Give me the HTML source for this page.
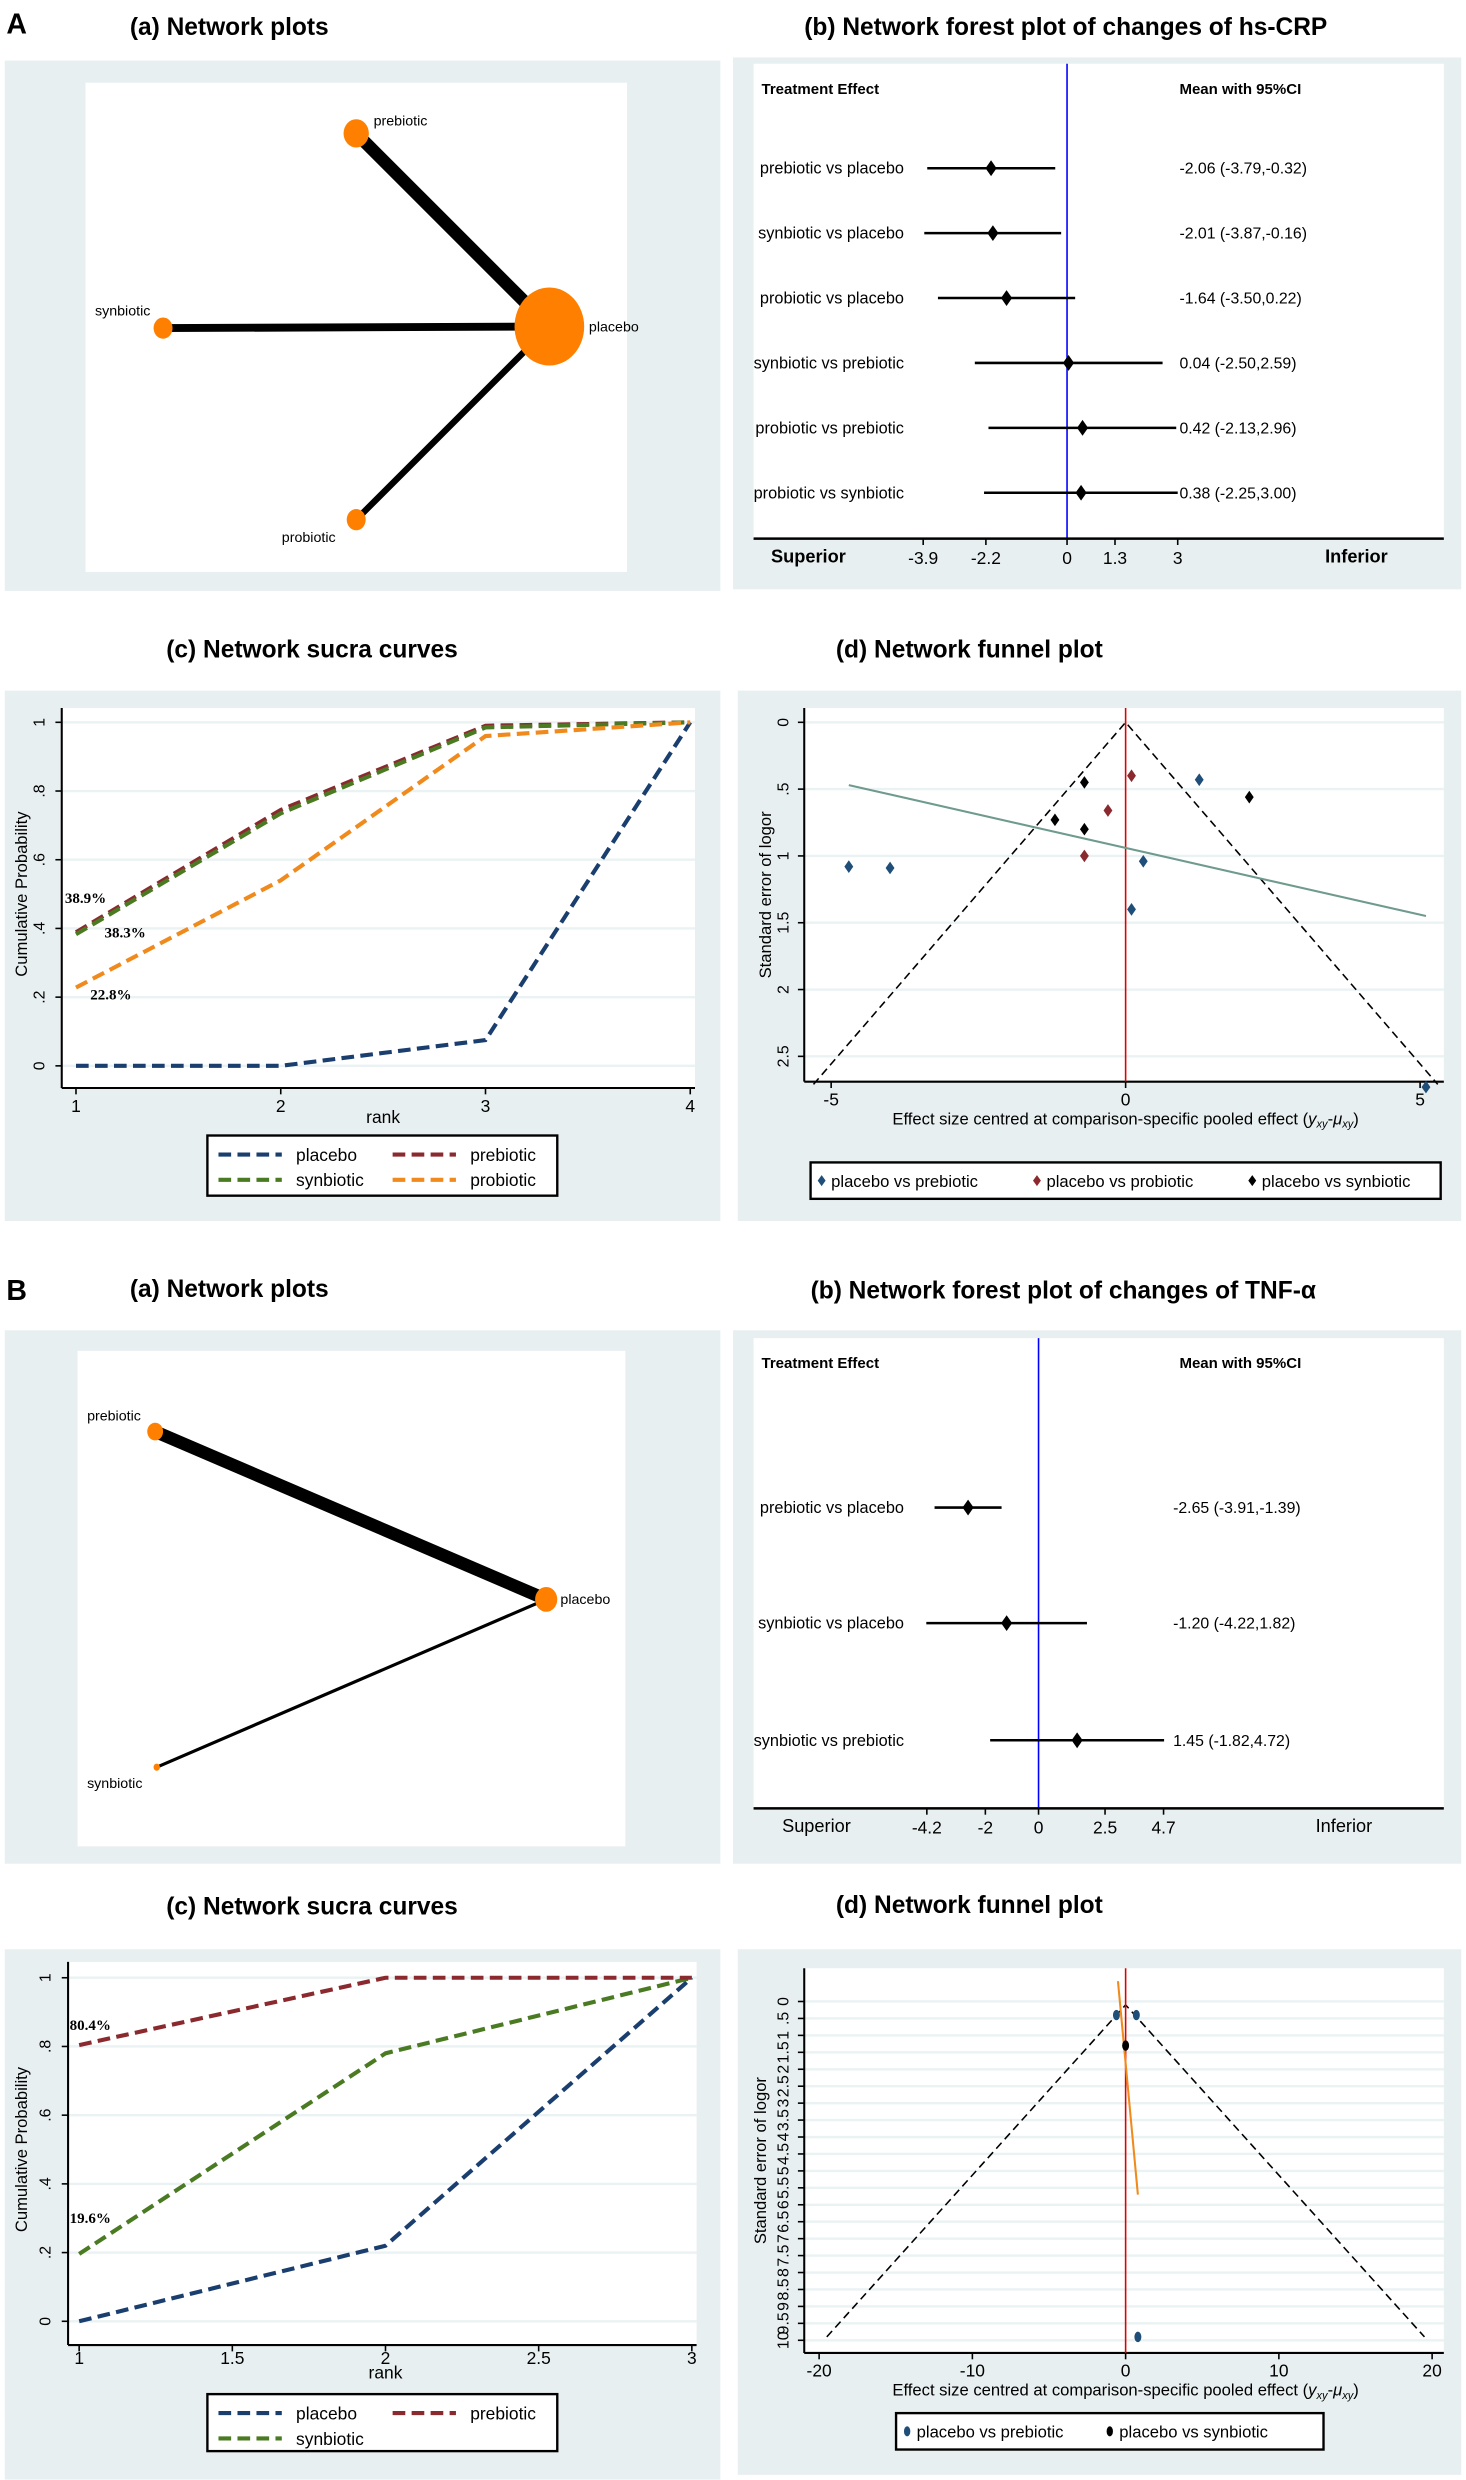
<!DOCTYPE html>
<html><head><meta charset="utf-8"><style>
html,body{margin:0;padding:0;background:#fff}
svg{display:block;font-family:"Liberation Sans",sans-serif}
</style></head><body>
<svg id="fig" width="1466" height="2480" viewBox="0 0 926 1566" xmlns="http://www.w3.org/2000/svg"></svg>
<script>
// ---------- DATA ----------
const sucraRanksA = [1,2,3,4];
const sucraPlaceboA = [0,0,0.075,1];
const sucraPrebioticA = [0.389,0.745,0.99,1];
const sucraSynbioticA = [0.383,0.735,0.985,1];
const sucraProbioticA = [0.228,0.54,0.96,1];
const sucraRanksB = [1,2,3];
const sucraPlaceboB = [0,0.22,1];
const sucraPrebioticB = [0.804,1,1];
const sucraSynbioticB = [0.196,0.78,1];

const forestLabelsA = ["prebiotic vs placebo","synbiotic vs placebo","probiotic vs placebo","synbiotic vs prebiotic","probiotic vs prebiotic","probiotic vs synbiotic"];
const forestMeanA = [-2.06,-2.01,-1.64,0.04,0.42,0.38];
const forestLowA = [-3.79,-3.87,-3.50,-2.50,-2.13,-2.25];
const forestHighA = [-0.32,-0.16,0.22,2.59,2.96,3.00];
const forestTicksA = [-3.9,-2.2,0,1.3,3];
const forestLabelsB = ["prebiotic vs placebo","synbiotic vs placebo","synbiotic vs prebiotic"];
const forestMeanB = [-2.65,-1.20,1.45];
const forestLowB = [-3.91,-4.22,-1.82];
const forestHighB = [-1.39,1.82,4.72];
const forestTicksB = [-4.2,-2,0,2.5,4.7];

const funnelBlueXA = [-4.7,-4.0,1.25,0.3,0.1,5.1];
const funnelBlueYA = [1.08,1.09,0.43,1.04,1.4,2.73];
const funnelRedXA = [0.1,-0.3,-0.7];
const funnelRedYA = [0.4,0.66,1.0];
const funnelBlackXA = [-0.7,-1.2,-0.7,2.1];
const funnelBlackYA = [0.45,0.73,0.8,0.56];
const funnelFitXA = [-4.7,5.1];
const funnelFitYA = [0.47,1.45];
const funnelBlueXB = [-0.6,0.7,0.8];
const funnelBlueYB = [0.4,0.4,9.9];
const funnelBlackXB = [0];
const funnelBlackYB = [1.3];
const funnelFitXB = [-0.5,0.8];
const funnelFitYB = [-0.6,5.7];

// ---------- HELPERS ----------
const NS="http://www.w3.org/2000/svg";
const svg=document.getElementById('fig');
function mk(tag,a,p){const e=document.createElementNS(NS,tag);for(const k in a)e.setAttribute(k,a[k]);(p||svg).appendChild(e);return e;}
function tx(x,y,s,size,extra,p){const e=mk('text',Object.assign({x:x,y:y,'font-size':size,fill:'#000'},extra||{}),p);e.textContent=s;return e;}
function title(x,y,s){const e=tx(x,y,s,15.5,{'font-weight':'bold'});

}
function bg(x,y,w,h){const e=mk('rect',{x:x,y:y,width:w,height:h,fill:'#e8eff1'});

}
function white(x,y,w,h){const e=mk('rect',{x:x,y:y,width:w,height:h,fill:'#fff'});

}

// ---------- PANEL LABELS ----------
let L=tx(4,21,'A',18,{'font-weight':'bold'});


L=tx(4,821,'B',18,{'font-weight':'bold'});



// ---------- NETWORK PLOTS ----------
function network(y0, nodes, edges){
  for(const ed of edges){const a=nodes[ed[0]],b=nodes[ed[1]];
    const l=mk('line',{x1:a.x,y1:a.y,x2:b.x,y2:b.y,stroke:'#000','stroke-width':ed[2]});
    
    }
  for(const k in nodes){const n=nodes[k];
    const c=mk('ellipse',{cx:n.x,cy:n.y,rx:n.r,ry:n.r*1.12,fill:'#ff8000'});
    
    
    const t=tx(n.lx,n.ly,k,9);
    
    }
}
title(82,22,'(a) Network plots');
bg(3,38,452,335); white(54,52,342,309);
network(0,{prebiotic:{x:225,y:84,r:8,lx:236,ly:79},placebo:{x:347,y:206,r:22,lx:372,ly:209},synbiotic:{x:103,y:207,r:6,lx:60,ly:199},probiotic:{x:225,y:328,r:6,lx:178,ly:342}},
  [['prebiotic','placebo',8],['synbiotic','placebo',5],['probiotic','placebo',4]]);
title(82,819,'(a) Network plots');
bg(3,840,452,337); white(49,853,346,313);
network(0,{prebiotic:{x:98,y:904,r:5,lx:55,ly:897},placebo:{x:345,y:1010,r:7,lx:354,ly:1013},synbiotic:{x:99,y:1116,r:2,lx:55,ly:1129}},
  [['prebiotic','placebo',8],['synbiotic','placebo',2]]);

// ---------- FOREST PLOTS ----------
function forest(cfg, labels, mean, low, high, ticks){
  const sx=v=>cfg.x0+v*cfg.k;
  bg(463,cfg.by,460,cfg.bh); white(476,cfg.wy,436,cfg.wh);
  let t=tx(481,cfg.hy,'Treatment Effect',9.5,{'font-weight':'bold'});
  
  
  t=tx(745,cfg.hy,'Mean with 95%CI',9.5,{'font-weight':'bold'});
  
  
  const ref=mk('line',{x1:cfg.x0,y1:cfg.wy,x2:cfg.x0,y2:cfg.ay,stroke:'#0000ff','stroke-width':1});
  
  
  for(let i=0;i<labels.length;i++){
    const y=cfg.rows[i];
    let e=tx(571,y+3.5,labels[i],10.3,{'text-anchor':'end'});
    
    
    e=mk('line',{x1:sx(low[i]),y1:y,x2:sx(high[i]),y2:y,stroke:'#000','stroke-width':1.6});
    
    
    const m=sx(mean[i]);
    e=mk('polygon',{points:`${m},${y-5} ${m+3.5},${y} ${m},${y+5} ${m-3.5},${y}`,fill:'#000'});
    
    
    const f=v=>v.toFixed(2);
    e=tx(cfg.vx,y+3.5,`${f(mean[i])} (${f(low[i])},${f(high[i])})`,10);
    
    
  }
  const ax=mk('line',{x1:476,y1:cfg.ay,x2:912,y2:cfg.ay,stroke:'#000','stroke-width':1.6});
  
  
  for(const v of ticks){
    const tk=mk('line',{x1:sx(v),y1:cfg.ay,x2:sx(v),y2:cfg.ay+4,stroke:'#000'});
    
    
    const tl=tx(sx(v),cfg.ay+16,String(v),11,{'text-anchor':'middle'});
    
    
  }
  t=tx(cfg.supx,cfg.ay+15,'Superior',11.5,{'font-weight':cfg.bold?'bold':'normal'});
  
  
  t=tx(cfg.infx,cfg.ay+15,'Inferior',11.5,{'font-weight':cfg.bold?'bold':'normal'});
  
  
}
title(508,22,'(b) Network forest plot of changes of hs-CRP');
forest({x0:674,k:23.3,by:36,bh:336,wy:40,wh:300,hy:59,ay:340,vx:745,rows:[106,147,188,229,270,311],supx:487,infx:837,bold:true},
  forestLabelsA,forestMeanA,forestLowA,forestHighA,forestTicksA);
title(512,820,'(b) Network forest plot of changes of TNF-α');
forest({x0:656,k:16.8,by:840,bh:337,wy:845,wh:297,hy:864,ay:1142,vx:741,rows:[952,1025,1099],supx:494,infx:831,bold:false},
  forestLabelsB,forestMeanB,forestLowB,forestHighB,forestTicksB);

// ---------- SUCRA ----------
function sucra(cfg, ranks, series, xticks, anns, legend){
  const sx=v=>cfg.xl+(v-ranks[0])/(ranks[ranks.length-1]-ranks[0])*(cfg.xr-cfg.xl);
  const sy=v=>cfg.y0-v*(cfg.y0-cfg.y1);
  bg(3,cfg.by,452,cfg.bh); white(cfg.px,cfg.py,cfg.pw,cfg.ph);
  for(const v of [0,0.2,0.4,0.6,0.8,1]){
    const g=mk('line',{x1:cfg.px,y1:sy(v),x2:cfg.px+cfg.pw,y2:sy(v),stroke:'#eaf2f3','stroke-width':1.5});
    
    
    const tl=tx(0,0,v===0?'0':v===1?'1':String(v).replace('0.','.'),10,{'text-anchor':'middle',transform:`translate(${cfg.px-11},${sy(v)}) rotate(-90)`});
    
    
    const tk=mk('line',{x1:cfg.px-4,y1:sy(v),x2:cfg.px,y2:sy(v),stroke:'#000'});
    
    
  }
  let a=mk('line',{x1:cfg.px,y1:cfg.py,x2:cfg.px,y2:cfg.py+cfg.ph,stroke:'#000','stroke-width':1.3});
  
  
  a=mk('line',{x1:cfg.px,y1:cfg.py+cfg.ph,x2:cfg.px+cfg.pw,y2:cfg.py+cfg.ph,stroke:'#000','stroke-width':1.3});
  
  
  for(const v of xticks){
    const tk=mk('line',{x1:sx(v),y1:cfg.py+cfg.ph,x2:sx(v),y2:cfg.py+cfg.ph+4,stroke:'#000'});
    
    
    const tl=tx(sx(v),cfg.py+cfg.ph+cfg.tkOff,String(v),11,{'text-anchor':'middle'});
    
    
  }
  let t=tx(sx((ranks[0]+ranks[ranks.length-1])/2),cfg.rankY,'rank',11,{'text-anchor':'middle'});
  
  
  t=tx(0,0,'Cumulative Probability',10.5,{'text-anchor':'middle',transform:`translate(17,${(cfg.y0+cfg.y1)/2}) rotate(-90)`});
  
  
  for(const s of series){
    const pts=s.v.map((v,i)=>sx(ranks[i])+','+sy(v)).join(' ');
    const p=mk('polyline',{points:pts,fill:'none',stroke:s.c,'stroke-width':2.6,'stroke-dasharray':'8,4'});
    
    
  }
  for(const an of anns){
    const e=tx(an[0],an[1],an[2],9.5,{'font-weight':'bold','font-family':'Liberation Serif, serif'});
    
    
  }
  const lg=mk('rect',{x:131,y:cfg.ly,width:221,height:cfg.lh,fill:'#fff',stroke:'#000','stroke-width':1.5});
  
  
  legend.forEach((s,i)=>{
    const col=i%2, row=Math.floor(i/2);
    const x=138+col*110, y=cfg.ly+12+row*16;
    const l=mk('line',{x1:x,y1:y,x2:x+40,y2:y,stroke:s.c,'stroke-width':2.6,'stroke-dasharray':'8,4'});
    
    
    const e=tx(x+49,y+4,s.n,11);
    
    
  });
}
const cBlue='#1a3f6f',cRed='#8b2a2e',cGreen='#4a7a22',cOrange='#f08a1c';
title(105,415,'(c) Network sucra curves');
sucra({by:436,bh:335,px:39,py:447,pw:400,ph:240,xl:48,xr:436,y0:673,y1:456,rankY:709,ly:717,lh:38,tkOff:15},
  sucraRanksA,
  [{n:'placebo',c:cBlue,v:sucraPlaceboA},{n:'prebiotic',c:cRed,v:sucraPrebioticA},{n:'synbiotic',c:cGreen,v:sucraSynbioticA},{n:'probiotic',c:cOrange,v:sucraProbioticA}],
  [1,2,3,4],[[41,570,'38.9%'],[66,592,'38.3%'],[57,631,'22.8%']],
  [{n:'placebo',c:cBlue},{n:'prebiotic',c:cRed},{n:'synbiotic',c:cGreen},{n:'probiotic',c:cOrange}]);
title(105,1209,'(c) Network sucra curves');
sucra({by:1231,bh:335,px:43,py:1239,pw:397,ph:242,xl:50,xr:437,y0:1466,y1:1249,rankY:1502,ly:1512,lh:36,tkOff:12},
  sucraRanksB,
  [{n:'placebo',c:cBlue,v:sucraPlaceboB},{n:'synbiotic',c:cGreen,v:sucraSynbioticB},{n:'prebiotic',c:cRed,v:sucraPrebioticB}],
  [1,1.5,2,2.5,3],[[44,1282,'80.4%'],[44,1404,'19.6%']],
  [{n:'placebo',c:cBlue},{n:'prebiotic',c:cRed},{n:'synbiotic',c:cGreen}]);

// ---------- FUNNEL ----------
function funnel(cfg, groups, fitX, fitY){
  const sx=v=>cfg.x0+v*cfg.kx;
  const sy=v=>cfg.y0+v*cfg.ky;
  bg(466,cfg.by,457,cfg.bh); white(cfg.px,cfg.py,cfg.pw,cfg.ph);
  for(const v of cfg.yt){
    const g=mk('line',{x1:cfg.px,y1:sy(v),x2:cfg.px+cfg.pw,y2:sy(v),stroke:'#eaf2f3','stroke-width':1.5});
    
    
    const tl=tx(0,0,v===0?'0':String(v).replace(/^0\./,'.'),10,{'text-anchor':'middle',transform:`translate(${cfg.px-10},${sy(v)}) rotate(-90)`});
    
    
    const tk=mk('line',{x1:cfg.px-4,y1:sy(v),x2:cfg.px,y2:sy(v),stroke:'#000'});
    
    
  }
  let a=mk('line',{x1:cfg.px,y1:cfg.py,x2:cfg.px,y2:cfg.py+cfg.ph,stroke:'#000','stroke-width':1.3});
  
  
  a=mk('line',{x1:cfg.px,y1:cfg.py+cfg.ph,x2:cfg.px+cfg.pw,y2:cfg.py+cfg.ph,stroke:'#000','stroke-width':1.3});
  
  
  for(const v of cfg.xt){
    const tk=mk('line',{x1:sx(v),y1:cfg.py+cfg.ph,x2:sx(v),y2:cfg.py+cfg.ph+4,stroke:'#000'});
    
    
    const tl=tx(sx(v),cfg.py+cfg.ph+15,String(v),11,{'text-anchor':'middle'});
    
    
  }
  let t=tx(711,cfg.py+cfg.ph+27,'Effect size centred at comparison-specific pooled effect (',10.5,{'text-anchor':'middle'});
  
  
  const ts1=mk('tspan',{'font-style':'italic'},t); ts1.textContent='y';
  const ts2=mk('tspan',{'font-style':'italic','font-size':7,dy:2},t); ts2.textContent='xy';
  const ts3=mk('tspan',{dy:-2},t); ts3.textContent='-';
  const ts4=mk('tspan',{'font-style':'italic'},t); ts4.textContent='μ';
  const ts5=mk('tspan',{'font-style':'italic','font-size':7,dy:2},t); ts5.textContent='xy';
  const ts6=mk('tspan',{dy:-2},t); ts6.textContent=')';
  t=tx(0,0,'Standard error of logor',10.5,{'text-anchor':'middle',transform:`translate(${cfg.ytx},${cfg.py+cfg.ph/2}) rotate(-90)`});
  
  
  let f=mk('polyline',{points:`${sx(cfg.fl[0])},${sy(cfg.fl[1])} ${sx(0)},${sy(cfg.apex)} ${sx(cfg.fr[0])},${sy(cfg.fr[1])}`,fill:'none',stroke:'#000','stroke-width':1,'stroke-dasharray':'5,3'});
  
  
  f=mk('line',{x1:sx(0),y1:cfg.py,x2:sx(0),y2:cfg.py+cfg.ph,stroke:'#e00000','stroke-width':1});
  
  
  f=mk('line',{x1:sx(fitX[0]),y1:sy(fitY[0]),x2:sx(fitX[1]),y2:sy(fitY[1]),stroke:cfg.fitc,'stroke-width':1.3});
  
  
  for(const g of groups){
    for(let i=0;i<g.x.length;i++){
      const X=sx(g.x[i]),Y=sy(g.y[i]);
      const p=cfg.diamond?mk('polygon',{points:`${X},${Y-4} ${X+2.8},${Y} ${X},${Y+4} ${X-2.8},${Y}`,fill:g.c}):mk('ellipse',{cx:X,cy:Y,rx:2.2,ry:3.3,fill:g.c});
      
      
    }
  }
  const lg=mk('rect',{x:cfg.lx,y:cfg.ly,width:cfg.lw,height:cfg.lh,fill:'#fff',stroke:'#000','stroke-width':1.5});
  
  
  groups.forEach((g,i)=>{
    const x=cfg.lx+7+i*cfg.lstep, y=cfg.ly+cfg.lh/2;
    const d=cfg.diamond?mk('polygon',{points:`${x},${y-3.5} ${x+2.5},${y} ${x},${y+3.5} ${x-2.5},${y}`,fill:g.c}):mk('ellipse',{cx:x,cy:y,rx:2,ry:3.2,fill:g.c});
    
    
    const e=tx(x+6,y+4,g.n,cfg.lfs);
    
    
  });
}
title(528,415,'(d) Network funnel plot');
funnel({by:436,bh:335,px:508,py:447,pw:404,ph:236,x0:711,kx:37.2,y0:456,ky:84.4,yt:[0,0.5,1,1.5,2,2.5],xt:[-5,0,5],
  fl:[-5.3,2.71],fr:[5.3,2.71],apex:0,fitc:'#6f9a8e',lx:512,ly:734,lw:398,lh:23,lstep:136,lfs:10.5,diamond:true,ytx:487},
  [{n:'placebo vs prebiotic',c:'#1f4e79',x:funnelBlueXA,y:funnelBlueYA},{n:'placebo vs probiotic',c:'#8b2a2e',x:funnelRedXA,y:funnelRedYA},{n:'placebo vs synbiotic',c:'#000',x:funnelBlackXA,y:funnelBlackYA}],
  funnelFitXA,funnelFitYA);
title(528,1208,'(d) Network funnel plot');
const ytB=[];for(let v=0;v<=10.001;v+=0.5)ytB.push(Math.round(v*10)/10);
funnel({by:1231,bh:332,px:508,py:1243,pw:404,ph:243,x0:711,kx:9.68,y0:1264,ky:21.4,yt:ytB,xt:[-20,-10,0,10,20],
  fl:[-19.5,9.9],fr:[19.5,9.9],apex:0.1,fitc:'#f08a1c',lx:566,ly:1524,lw:270,lh:23,lstep:128,lfs:10.5,diamond:false,ytx:484},
  [{n:'placebo vs prebiotic',c:'#1f4e79',x:funnelBlueXB,y:funnelBlueYB},{n:'placebo vs synbiotic',c:'#000',x:funnelBlackXB,y:funnelBlackYB}],
  funnelFitXB,funnelFitYB);
</script>
</body></html>
